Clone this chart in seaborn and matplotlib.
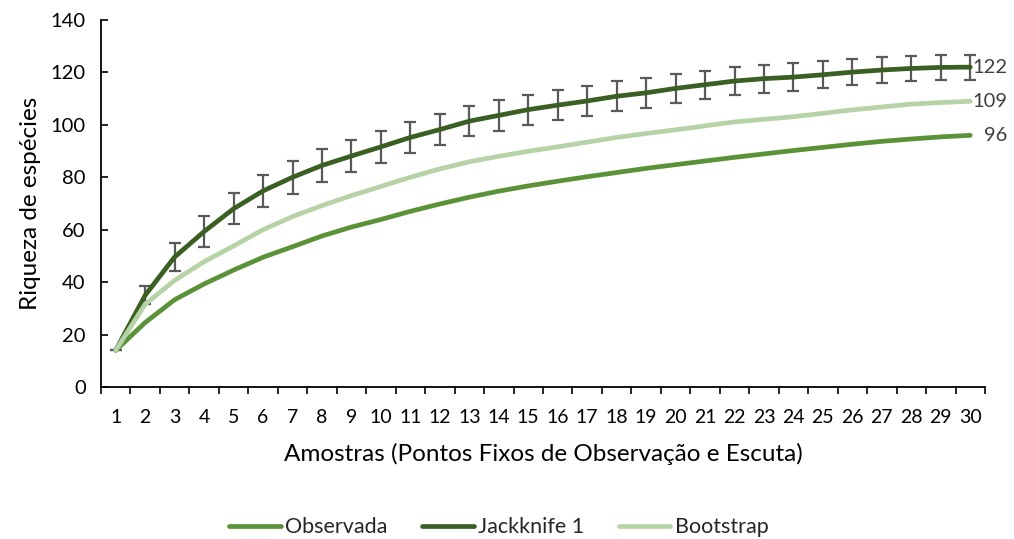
import numpy as np
import pandas as pd
import matplotlib
matplotlib.use("Agg")
import matplotlib.pyplot as plt
import seaborn as sns

# Species accumulation per sample (fixed observation/listening points)
amostras = list(range(1, 31))
observada = [14, 24.6, 33.3, 39.3, 44.6, 49.5, 53.5, 57.6, 61.0, 63.9,
             67.0, 69.8, 72.4, 74.7, 76.7, 78.5, 80.2, 81.8, 83.4, 84.8,
             86.2, 87.6, 88.9, 90.2, 91.4, 92.6, 93.7, 94.6, 95.4, 96]
jackknife1 = [14, 35.0, 49.6, 59.3, 68.0, 74.8, 80.0, 84.5, 88.1, 91.6,
              95.2, 98.2, 101.4, 103.6, 105.8, 107.5, 109.1, 110.9, 112.2, 113.9,
              115.3, 116.7, 117.6, 118.2, 119.1, 120.1, 120.9, 121.5, 121.9, 122]
jackknife1_dp = [0, 3.4, 5.3, 6.0, 5.9, 6.1, 6.3, 6.3, 6.2, 6.0,
                 5.9, 5.9, 5.8, 5.8, 5.7, 5.7, 5.7, 5.7, 5.6, 5.4,
                 5.4, 5.4, 5.3, 5.2, 5.2, 5.1, 5.0, 4.9, 4.8, 4.8]
bootstrap = [14, 31.6, 40.7, 47.8, 53.8, 60.0, 65.0, 69.2, 73.0, 76.5,
             80.0, 83.2, 85.9, 88.0, 89.9, 91.6, 93.4, 95.2, 96.7, 98.1,
             99.6, 101.1, 102.1, 103.1, 104.4, 105.7, 106.8, 107.9, 108.5, 109]
series = ["Observada", "Jackknife 1", "Bootstrap"]
cores = ["#5B9237", "#3B5E23", "#B5D3A7"]
y_ticks = [0, 20, 40, 60, 80, 100, 120, 140]

df = pd.DataFrame({
    "Amostra": amostras * 3,
    "Riqueza": observada + jackknife1 + bootstrap,
    "Estimador": [s for s in series for _ in amostras],
})

sns.set_style("white")
plt.rcParams["font.family"] = ["Lato", "DejaVu Sans"]

fig = plt.figure(figsize=(10.14, 5.39), dpi=100)
ax = fig.add_axes([0.0996, 0.282, 0.8718, 0.681])

sns.lineplot(data=df, x="Amostra", y="Riqueza", hue="Estimador",
             hue_order=series, palette=cores, linewidth=3.4, ax=ax,
             legend=False, solid_capstyle="round", zorder=3)

ax.errorbar(amostras, jackknife1, yerr=jackknife1_dp, fmt="none",
            ecolor="#595959", elinewidth=1.6, capsize=4.5, capthick=1.6,
            zorder=2)

# Final values at the end of each curve
for vals in [observada, jackknife1, bootstrap]:
    ax.annotate(f"{vals[-1]:.0f}", xy=(amostras[-1], vals[-1]),
                xytext=(27, 0), textcoords="offset points",
                ha="right", va="center", fontsize=14.5, color="#404040")

ax.set_xlim(0.5, 30.5)
ax.set_ylim(0, 140)
ax.set_yticks(y_ticks)
ax.set_xticks(amostras)
ax.set_xticks(np.arange(0.5, 31, 1), minor=True)
ax.tick_params(axis="x", which="major", length=0, pad=16, labelsize=14,
               colors="#000000")
ax.tick_params(axis="x", which="minor", length=5, width=1.2, direction="out",
               bottom=True, color="#000000")
ax.tick_params(axis="y", which="major", length=5, width=1.2, direction="in",
               left=True, pad=11, labelsize=14.5, colors="#000000")

for s in ["top", "right"]:
    ax.spines[s].set_visible(False)
for s in ["left", "bottom"]:
    ax.spines[s].set_color("#000000")
    ax.spines[s].set_linewidth(1.3)

ax.set_xlabel("Amostras (Pontos Fixos de Observação e Escuta)", fontsize=17.5,
              labelpad=12, color="#000000")
ax.set_ylabel("Riqueza de espécies", fontsize=17.5, labelpad=7, color="#000000")

handles = [plt.Line2D([], [], color=c, linewidth=3.4, solid_capstyle="round")
           for c in cores]
fig.legend(handles, series, loc="center", bbox_to_anchor=(0.492, 0.022),
           ncol=3, frameon=False, fontsize=15.5, handlelength=2.4,
           handletextpad=0.2, columnspacing=1.6)

fig.savefig("out.png", dpi=100)
